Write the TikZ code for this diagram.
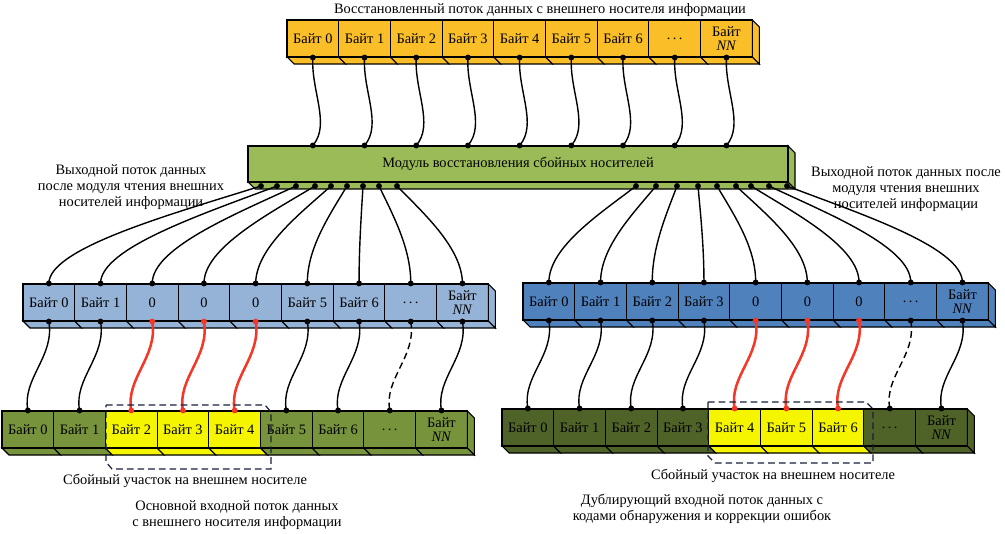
\documentclass[tikz,border=0pt]{standalone}
\usepackage{fontspec}
\setmainfont{Liberation Serif}
\definecolor{cTop}{RGB}{250,190,40}
\definecolor{cMod}{RGB}{155,187,89}
\definecolor{cLB}{RGB}{149,179,215}
\definecolor{cRB}{RGB}{79,129,189}
\definecolor{cLG}{RGB}{119,147,60}
\definecolor{cRG}{RGB}{79,98,40}
\definecolor{cY}{RGB}{245,245,0}
\definecolor{cRed}{RGB}{245,55,40}
\definecolor{cDash}{RGB}{25,30,60}
\tikzset{
 cell/.style={draw=black, line width=0.8pt, minimum width=38.775pt, minimum height=27.75pt, inner sep=0pt, align=center, font=\fontsize{10.8}{11}\selectfont},
 face/.style={draw=black, line width=0.8pt},
 wire/.style={draw=black, line width=1.05pt},
 dwire/.style={wire, dash pattern=on 5pt off 3pt},
 redwire/.style={draw=cRed, line width=1.9pt},
 boxdash/.style={draw=cDash, line width=0.9pt, dash pattern=on 5pt off 3pt},
 lbl/.style={align=center, font=\fontsize{10.8}{11.8}\selectfont, inner sep=0pt},
}
\newcommand\DrawRow[5]{%
 \foreach \txt/\col [count=\i from 0] in {#4} {
   \pgfmathsetmacro\xl{#2+\i*51.7}
   \pgfmathsetmacro\xr{\xl+51.7}
   \filldraw[fill=\col, face] ({\xl},{#3+37}) -- ({\xr},{#3+37}) -- ({\xr+7},{#3+44}) -- ({\xl+7},{#3+44}) -- cycle;
   \node[cell, fill=\col] (#1\i) at ({\xl+25.85},{#3+18.5}) {\txt};
 }
 \pgfmathsetmacro\xe{#2+9*51.7}
 \filldraw[fill=#5, face] ({\xe},{#3}) -- ({\xe+7},{#3+7}) -- ({\xe+7},{#3+44}) -- ({\xe},{#3+37}) -- cycle;
}
\begin{document}
\begin{tikzpicture}[x=0.75pt, y=-0.75pt]
\useasboundingbox (0,0) rectangle (1005,534);

% rows
\DrawRow{t}{287}{20}{{Байт 0}/cTop,{Байт 1}/cTop,{Байт 2}/cTop,{Байт 3}/cTop,{Байт 4}/cTop,{Байт 5}/cTop,{Байт 6}/cTop,{.\,.\,.}/cTop,{Байт\\\textit{NN}}/cTop}{cTop}
\DrawRow{lb}{23}{284}{{Байт 0}/cLB,{Байт 1}/cLB,0/cLB,0/cLB,0/cLB,{Байт 5}/cLB,{Байт 6}/cLB,{.\,.\,.}/cLB,{Байт\\\textit{NN}}/cLB}{cLB}
\DrawRow{rb}{523}{283}{{Байт 0}/cRB,{Байт 1}/cRB,{Байт 2}/cRB,{Байт 3}/cRB,0/cRB,0/cRB,0/cRB,{.\,.\,.}/cRB,{Байт\\\textit{NN}}/cRB}{cRB}
\DrawRow{lg}{2}{411}{{Байт 0}/cLG,{Байт 1}/cLG,{Байт 2}/cY,{Байт 3}/cY,{Байт 4}/cY,{Байт 5}/cLG,{Байт 6}/cLG,{.\,.\,.}/cLG,{Байт\\\textit{NN}}/cLG}{cLG}
\DrawRow{rg}{502}{409}{{Байт 0}/cRG,{Байт 1}/cRG,{Байт 2}/cRG,{Байт 3}/cRG,{Байт 4}/cY,{Байт 5}/cY,{Байт 6}/cY,{.\,.\,.}/cRG,{Байт\\\textit{NN}}/cRG}{cRG}

% module
\filldraw[fill=cMod, face] (248,182) -- (788,182) -- (795,189) -- (255,189) -- cycle;
\filldraw[fill=cMod, face] (788,146) -- (795,153) -- (795,189) -- (788,182) -- cycle;
\node[cell, fill=cMod, minimum width=405pt, minimum height=27pt] (m) at (518,164) {Модуль восстановления сбойных носителей};

% labels
\node[lbl] (title) at (540,10) {Восстановленный поток данных с внешнего носителя информации};
\node[lbl] (outL) at (131,187) {Выходной поток данных\\после модуля чтения внешних\\носителей информации};
\node[lbl] (outR) at (906,189) {Выходной поток данных после\\модуля чтения внешних\\носителей информации};
\node[lbl] (failL) at (185,481) {Сбойный участок на внешнем носителе};
\node[lbl] (failR) at (773,476) {Сбойный участок на внешнем носителе};
\node[lbl] (mainIn) at (237,515) {Основной входной поток данных\\с внешнего носителя информации};
\node[lbl] (dupIn) at (702,509) {Дублирующий входной поток данных с\\кодами обнаружения и коррекции ошибок};

% top row -> module
\foreach \i in {0,...,8} {
  \coordinate (mt\i) at (t\i.south |- m.north);
  \draw[wire] (t\i.south) .. controls +(-2,33) and +(18,-21) .. (mt\i);
  \fill (t\i.south) circle[radius=2.2pt];
  \fill (mt\i) circle[radius=2.2pt];
}

% module -> left blue
\foreach \mx/\bx [count=\i from 0] in {261/49,277/100.5,296/152,315/204,331/256,347/307,363/359,379/411,397/462} {
  \coordinate (ml\i) at (\mx,186);
  \draw[wire] (ml\i) .. controls ({\mx+0.42*(\bx-\mx)},214) and (\bx,248) .. (lb\i.north);
  \fill (ml\i) circle[radius=2.2pt];
  \fill (lb\i.north) circle[radius=2.2pt];
}
% module -> right blue
\foreach \mx/\bx [count=\i from 0] in {636/549,656/600.5,677/652,698/704,717/756,736/807,751/859,769/911,787/962} {
  \coordinate (mr\i) at (\mx,186);
  \draw[wire] (mr\i) .. controls ({\mx+0.42*(\bx-\mx)},214) and (\bx,247) .. (rb\i.north);
  \fill (mr\i) circle[radius=2.2pt];
  \fill (rb\i.north) circle[radius=2.2pt];
}

% blue -> green
\foreach \i/\sty/\dc in {0/wire/black,1/wire/black,2/redwire/cRed,3/redwire/cRed,4/redwire/cRed,5/wire/black,6/wire/black,7/dwire/black,8/wire/black} {
  \draw[\sty] (lb\i.south) .. controls +(6,35) and +(-6,-32) .. (lg\i.north);
  \fill[\dc] (lb\i.south) circle[radius=2.2pt];
  \fill[\dc] (lg\i.north) circle[radius=2.2pt];
}
\foreach \i/\sty/\dc in {0/wire/black,1/wire/black,2/wire/black,3/wire/black,4/redwire/cRed,5/redwire/cRed,6/redwire/cRed,7/dwire/black,8/wire/black} {
  \draw[\sty] (rb\i.south) .. controls +(6,35) and +(-6,-32) .. (rg\i.north);
  \fill[\dc] (rb\i.south) circle[radius=2.2pt];
  \fill[\dc] (rg\i.north) circle[radius=2.2pt];
}

% dashed failure boxes
\draw[boxdash] (106,405) -- (265,405) -- (271,412) -- (271,469) -- (112,469) -- (106,462) -- cycle;
\draw[boxdash] (708,402) -- (866,402) -- (873,409) -- (873,463) -- (715,463) -- (708,456) -- cycle;
\end{tikzpicture}
\end{document}
